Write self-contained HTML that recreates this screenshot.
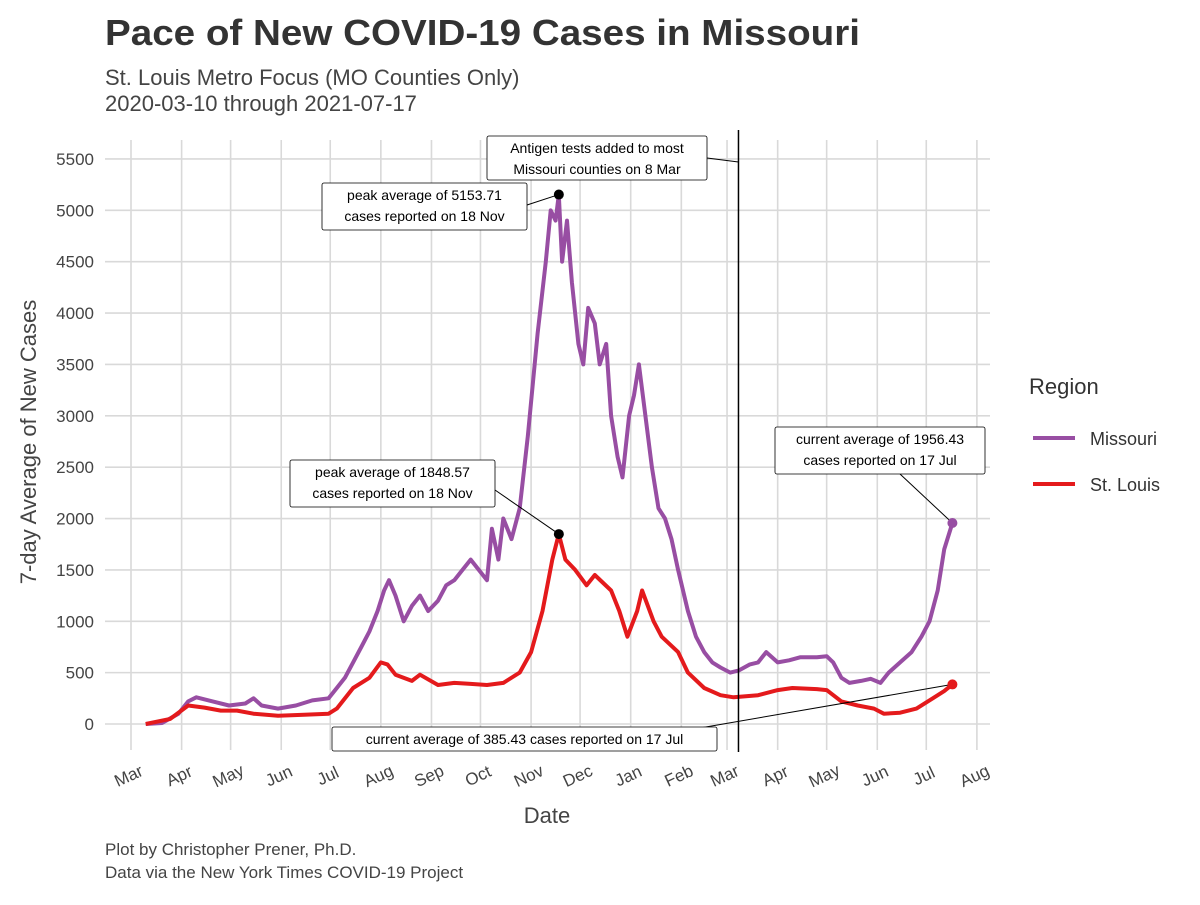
<!DOCTYPE html>
<html><head><meta charset="utf-8">
<style>
body{margin:0;background:#fff;font-family:"Liberation Sans",Helvetica,sans-serif;}
svg text{font-family:"Liberation Sans",Helvetica,sans-serif;}
</style></head>
<body>
<svg id="chart" width="1200" height="900" viewBox="0 0 1200 900">
<text x="105" y="45" font-size="36" font-weight="bold" fill="#333" textLength="755" lengthAdjust="spacingAndGlyphs">Pace of New COVID-19 Cases in Missouri</text>
<text x="105" y="85" font-size="22" fill="#444">St. Louis Metro Focus (MO Counties Only)</text>
<text x="105" y="111" font-size="22" fill="#444">2020-03-10 through 2021-07-17</text>
<g id="grid"></g>
<g id="series"></g>
<g id="annot"></g>
<text x="547" y="823" font-size="22" fill="#444" text-anchor="middle">Date</text>
<text transform="translate(36,442) rotate(-90)" font-size="22" fill="#444" text-anchor="middle">7-day Average of New Cases</text>
<text x="1029" y="394" font-size="22" fill="#333">Region</text>
<line x1="1033" y1="438" x2="1075" y2="438" stroke="#984EA3" stroke-width="4"/>
<text x="1090" y="445" font-size="18" fill="#333">Missouri</text>
<line x1="1033" y1="484" x2="1075" y2="484" stroke="#E41A1C" stroke-width="4"/>
<text x="1090" y="491" font-size="18" fill="#333">St. Louis</text>
<text x="105" y="855" font-size="17" fill="#444">Plot by Christopher Prener, Ph.D.</text>
<text x="105" y="878" font-size="17" fill="#444">Data via the New York Times COVID-19 Project</text>
</svg>
<script>
const yTicks=[0,500,1000,1500,2000,2500,3000,3500,4000,4500,5000,5500];
const monthTicks=["2020-03-01","2020-04-01","2020-05-01","2020-06-01","2020-07-01","2020-08-01","2020-09-01","2020-10-01","2020-11-01","2020-12-01","2021-01-01","2021-02-01","2021-03-01","2021-04-01","2021-05-01","2021-06-01","2021-07-01","2021-08-01"];
const monthLabels=["Mar","Apr","May","Jun","Jul","Aug","Sep","Oct","Nov","Dec","Jan","Feb","Mar","Apr","May","Jun","Jul","Aug"];
const moDates=["2020-03-10","2020-03-20","2020-03-30","2020-04-05","2020-04-10","2020-04-20","2020-04-30","2020-05-10","2020-05-15","2020-05-20","2020-05-30","2020-06-10","2020-06-20","2020-06-30","2020-07-05","2020-07-10","2020-07-15","2020-07-20","2020-07-25","2020-07-30","2020-08-03","2020-08-06","2020-08-10","2020-08-15","2020-08-20","2020-08-25","2020-08-30","2020-09-05","2020-09-10","2020-09-15","2020-09-20","2020-09-25","2020-09-30","2020-10-05","2020-10-08","2020-10-12","2020-10-15","2020-10-20","2020-10-25","2020-10-30","2020-11-05","2020-11-10","2020-11-13","2020-11-16","2020-11-18","2020-11-20","2020-11-23","2020-11-26","2020-11-30","2020-12-03","2020-12-06","2020-12-10","2020-12-13","2020-12-17","2020-12-20","2020-12-24","2020-12-27","2020-12-31","2021-01-03","2021-01-06","2021-01-10","2021-01-14","2021-01-18","2021-01-22","2021-01-26","2021-01-30","2021-02-05","2021-02-10","2021-02-15","2021-02-20","2021-02-25","2021-03-03","2021-03-08","2021-03-15","2021-03-20","2021-03-25","2021-04-01","2021-04-08","2021-04-15","2021-04-25","2021-05-01","2021-05-05","2021-05-10","2021-05-15","2021-05-22","2021-05-28","2021-06-03","2021-06-08","2021-06-15","2021-06-22","2021-06-28","2021-07-03","2021-07-08","2021-07-12","2021-07-17"];
const moValues=[0,10,100,220,260,220,180,200,250,180,150,180,230,250,350,450,600,750,900,1100,1300,1400,1250,1000,1150,1250,1100,1200,1350,1400,1500,1600,1500,1400,1900,1600,2000,1800,2100,2800,3800,4500,5000,4900,5153.71,4500,4900,4300,3700,3500,4050,3900,3500,3700,3000,2600,2400,3000,3200,3500,3000,2500,2100,2000,1800,1500,1100,850,700,600,550,500,520,580,600,700,600,620,650,650,660,600,450,400,420,440,400,500,600,700,850,1000,1300,1700,1956.43];
const slDates=["2020-03-10","2020-03-25","2020-04-05","2020-04-15","2020-04-25","2020-05-05","2020-05-15","2020-05-30","2020-06-15","2020-06-30","2020-07-05","2020-07-15","2020-07-25","2020-08-01","2020-08-05","2020-08-10","2020-08-20","2020-08-25","2020-09-05","2020-09-15","2020-09-25","2020-10-05","2020-10-15","2020-10-25","2020-11-01","2020-11-08","2020-11-14","2020-11-18","2020-11-22","2020-11-28","2020-12-05","2020-12-10","2020-12-20","2020-12-25","2020-12-30","2021-01-05","2021-01-08","2021-01-15","2021-01-20","2021-01-30","2021-02-05","2021-02-15","2021-02-25","2021-03-05","2021-03-20","2021-04-01","2021-04-10","2021-04-25","2021-05-01","2021-05-10","2021-05-20","2021-05-30","2021-06-05","2021-06-15","2021-06-25","2021-07-05","2021-07-12","2021-07-17"];
const slValues=[0,50,180,160,130,130,100,80,90,100,150,350,450,600,580,480,420,480,380,400,390,380,400,500,700,1100,1600,1848.57,1600,1500,1350,1450,1300,1100,850,1100,1300,1000,850,700,500,350,280,260,280,330,350,340,330,220,180,150,100,110,150,250,320,385.43];

const NS='http://www.w3.org/2000/svg';
const x0=Date.UTC(2020,2,1), pxDay=1.633, xLeft=131;
function xs(d){const p=d.split('-').map(Number);return xLeft+(Date.UTC(p[0],p[1]-1,p[2])-x0)/864e5*pxDay;}
function ys(v){return 724-v*0.10273;}
function mk(tag,attrs,parent){const e=document.createElementNS(NS,tag);for(const k in attrs)e.setAttribute(k,attrs[k]);parent.appendChild(e);return e;}
const grid=document.getElementById('grid');
yTicks.forEach(v=>{
  const l=mk('line',{x1:105,x2:990,y1:ys(v),y2:ys(v),stroke:'#d9d9d9','stroke-width':1.6},grid);
  
  
  const t=mk('text',{x:94,y:ys(v)+6,'font-size':17,fill:'#444','text-anchor':'end'},grid);
  t.textContent=v;
  
  
});
monthTicks.forEach((d,i)=>{
  const x=xs(d);
  const l=mk('line',{x1:x,x2:x,y1:140,y2:750,stroke:'#d9d9d9','stroke-width':1.6},grid);
  
  
  const t=mk('text',{transform:`translate(${x},${781}) rotate(-25)`,'font-size':17,fill:'#444','text-anchor':'middle'},grid);
  t.textContent=monthLabels[i];
  
  
});
const ser=document.getElementById('series');
function line(dates,vals,color,name){
  const d=dates.map((dt,i)=>(i?'L':'M')+xs(dt).toFixed(1)+','+ys(vals[i]).toFixed(1)).join('');
  const p=mk('path',{d:d,fill:'none',stroke:color,'stroke-width':4,'stroke-linejoin':'round'},ser);
  
  
}
line(moDates,moValues,'#984EA3','missouri-line');
line(slDates,slValues,'#E41A1C','stlouis-line');
const an=document.getElementById('annot');
const vx=xs('2021-03-08');
const vl=mk('line',{x1:vx,x2:vx,y1:130,y2:752,stroke:'#000','stroke-width':1.5},an);


function label(lines,bx,by,w,h,lx,ly,px,py,name,ptColor){
  mk('line',{x1:lx,y1:ly,x2:px,y2:py,stroke:'#000','stroke-width':1},an);
  const r=mk('rect',{x:bx,y:by,width:w,height:h,fill:'#fff',stroke:'#000','stroke-width':0.8,rx:2},an);
  
  
  lines.forEach((s,i)=>{const t=mk('text',{x:bx+w/2,y:by+17+i*21,'font-size':14,fill:'#000','text-anchor':'middle'},an);t.textContent=s;});
  if(ptColor){const c=mk('circle',{cx:px,cy:py,r:5,fill:ptColor},an);}
}
label(['Antigen tests added to most','Missouri counties on 8 Mar'],487,136,220,44,707,158,vx,162,'antigen-annotation');
label(['peak average of 5153.71','cases reported on 18 Nov'],322,183,205,47,527,205,xs('2020-11-18'),ys(5153.71),'mo-peak-annotation','#000');
label(['peak average of 1848.57','cases reported on 18 Nov'],290,460,205,47,495,490,xs('2020-11-18'),ys(1848.57),'stl-peak-annotation','#000');
label(['current average of 1956.43','cases reported on 17 Jul'],775,427,210,47,900,474,xs('2021-07-17'),ys(1956.43),'mo-current-annotation','#984EA3');
label(['current average of 385.43 cases reported on 17 Jul'],332,727,385,24,700,728,xs('2021-07-17'),ys(385.43),'stl-current-annotation','#E41A1C');
</script>
</body></html>
